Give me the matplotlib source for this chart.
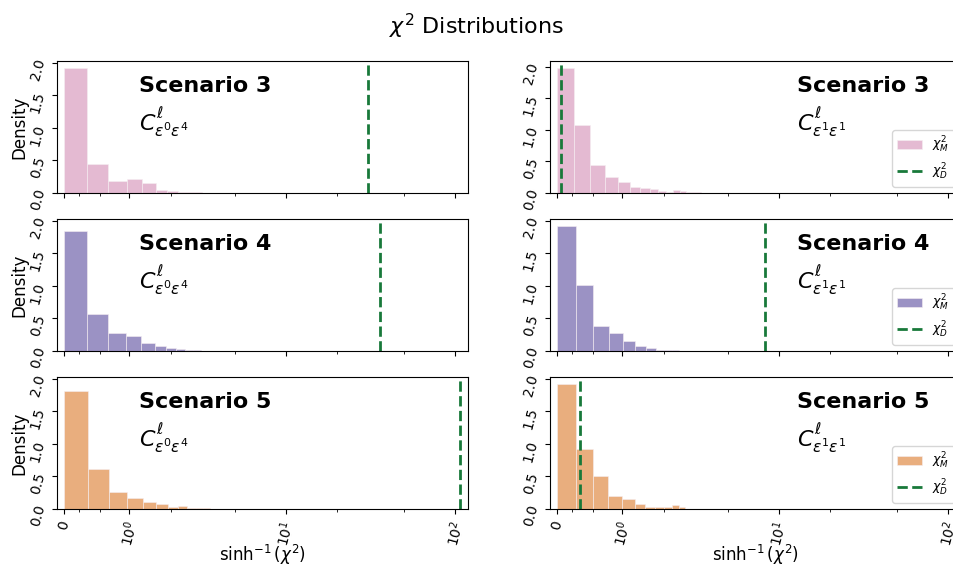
import numpy as np
import matplotlib
matplotlib.use("Agg")
import matplotlib.pyplot as plt
from matplotlib.ticker import FixedLocator, MultipleLocator, LogFormatterSciNotation

# panel labels
scenarios = ["Scenario 3", "Scenario 4", "Scenario 5"]
spectra = [r"$C^{\ell}_{\varepsilon^0\varepsilon^4}$",
           r"$C^{\ell}_{\varepsilon^1\varepsilon^1}$"]
hist_colors = ["#e4bad2", "#9b92c4", "#e9ae7e"]

# histogram bin widths (linear chi2 units), [row][col]
bin_width = [[0.316, 0.23], [0.31, 0.252], [0.32, 0.25]]

# model chi2 densities
dens_s3_left = [1.93, 0.45, 0.18, 0.22, 0.16, 0.04, 0.03, 0.02, 0.01, 0.01,
                0.006, 0.005, 0.004, 0.003, 0.003]
dens_s3_right = [1.98, 1.08, 0.45, 0.26, 0.18, 0.09, 0.075, 0.063, 0.026, 0.01,
                 0.04, 0.025, 0.015, 0.015, 0.01]
dens_s4_left = [1.85, 0.57, 0.27, 0.23, 0.12, 0.076, 0.05, 0.03, 0.02, 0.01, 0.005]
dens_s4_right = [1.93, 1.01, 0.385, 0.28, 0.16, 0.08, 0.046, 0.01, 0.015, 0.01,
                 0.005, 0.005, 0.004, 0.003, 0.003]
dens_s5_left = [1.81, 0.61, 0.255, 0.173, 0.107, 0.077, 0.03, 0.05, 0.01, 0.02,
                0.008, 0.005, 0.005, 0.003, 0.003]
dens_s5_right = [1.92, 0.92, 0.51, 0.205, 0.15, 0.083, 0.037, 0.037, 0.027, 0.06, 0.03]

densities = [[dens_s3_left, dens_s3_right],
             [dens_s4_left, dens_s4_right],
             [dens_s5_left, dens_s5_right]]

# observed (data) chi2 values
chi2_data = [[30.5, 0.055], [36.1, 8.33], [107.0, 0.318]]

# x tick positions on the asinh axis
major_ticks = [0, 1, 10, 100]
minor_ticks = [0.2, 0.5, 2, 5, 20, 50]

ylim_top = [[2.03, 2.09], [2.03, 2.03], [2.03, 2.03]]

fig = plt.figure(figsize=(9.54, 5.67), dpi=100)
fig.suptitle(r"$\chi^2$ Distributions", fontsize=16, y=0.98)

W, H = 954.0, 567.0
col_left = [57, 550]
row_top = [61, 219, 377]
ax_w, ax_h = 411, 132

for r in range(3):
    for c in range(2):
        ax = fig.add_axes([col_left[c] / W, 1 - (row_top[r] + ax_h) / H, ax_w / W, ax_h / H])
        heights = densities[r][c]
        edges = np.arange(len(heights) + 1) * bin_width[r][c]
        centers = 0.5 * (edges[:-1] + edges[1:])
        ax.hist(centers, bins=edges, weights=heights, color=hist_colors[r],
                edgecolor="#f6eef2", linewidth=0.4, label=r"$\chi^2_M$")
        ax.axvline(chi2_data[r][c], color="#18793a", linestyle="--", linewidth=2,
                   label=r"$\chi^2_D$")
        ax.set_xscale("asinh")
        ax.xaxis.set_major_locator(FixedLocator(major_ticks))
        ax.xaxis.set_minor_locator(FixedLocator(minor_ticks))
        ax.xaxis.set_major_formatter(LogFormatterSciNotation(10))
        ax.set_xlim(-0.1, 119)
        ax.set_ylim(0, ylim_top[r][c])
        ax.yaxis.set_major_locator(MultipleLocator(0.5))
        ax.tick_params(axis="both", labelrotation=75)

        tx = 0.2 if c == 0 else 0.6
        ax.text(tx, 0.89, scenarios[r], transform=ax.transAxes, fontsize=16,
                fontweight="bold", va="top", ha="left")
        ax.text(tx, 0.66, spectra[c], transform=ax.transAxes, fontsize=16,
                va="top", ha="left")

        if c == 0:
            ax.set_ylabel("Density", fontsize=12, labelpad=0)
        else:
            ax.legend(loc="lower right", fontsize=9)
        if r < 2:
            ax.tick_params(labelbottom=False)
        else:
            ax.set_xlabel(r"$\sinh^{-1}(\chi^2)$", fontsize=12, labelpad=-4)

plt.savefig("out.png", dpi=100)
plt.close()
